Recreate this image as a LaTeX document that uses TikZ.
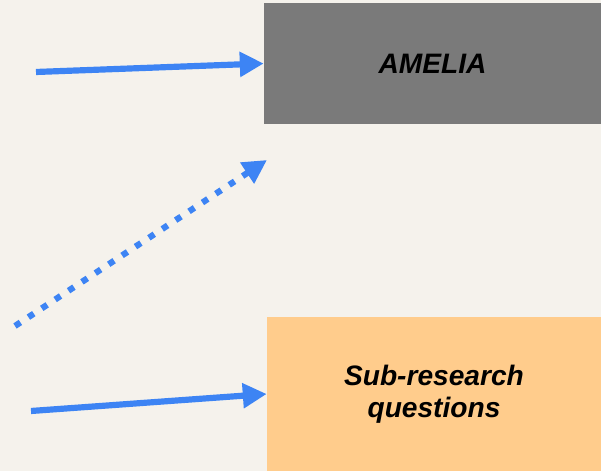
\documentclass[tikz,border=0pt]{standalone}
\usepackage{fontspec}
\setmainfont{Liberation Sans}
\usetikzlibrary{arrows.meta}
\definecolor{fond}{HTML}{F5F2EC}
\definecolor{gris}{HTML}{7A7A7A}
\definecolor{orangeclair}{HTML}{FFCC8C}
\definecolor{bleu}{HTML}{3D84F4}
\begin{document}
\begin{tikzpicture}[x=0.025cm,y=-0.025cm,
    boite/.style={inner sep=0pt,align=center,font=\fontsize{20}{23}\selectfont\bfseries\itshape},
    fleche/.style={draw=bleu,line width=4.4pt,-{Triangle[length=17pt,width=17pt]}},
    pointille/.style={fleche,dash pattern=on 4.6pt off 6.8pt}]
                    \fill[fond] (0,0) rectangle (601,471);
                    \useasboundingbox (0,0) rectangle (601,471);
                    \node[boite,fill=gris,minimum width=337*0.025cm,minimum height=121*0.025cm] (amelia) at (432.5,63.5) {AMELIA};
                    \node[boite,fill=orangeclair,minimum width=334*0.025cm,minimum height=154*0.025cm] (srq) at (434,394) {Sub-research\\questions};
                    
                    \coordinate (d1) at (36,72);
                    \coordinate (d2) at (15,326);
                    \coordinate (f2) at (267,160);
                    \coordinate (d3) at (31,411);
                    
                    \draw[fleche] (d1) -- (amelia.west);
                    \draw[pointille] (d2) -- (f2);
                    \draw[fleche] (d3) -- (srq.west);
                \end{tikzpicture}
\end{document}
